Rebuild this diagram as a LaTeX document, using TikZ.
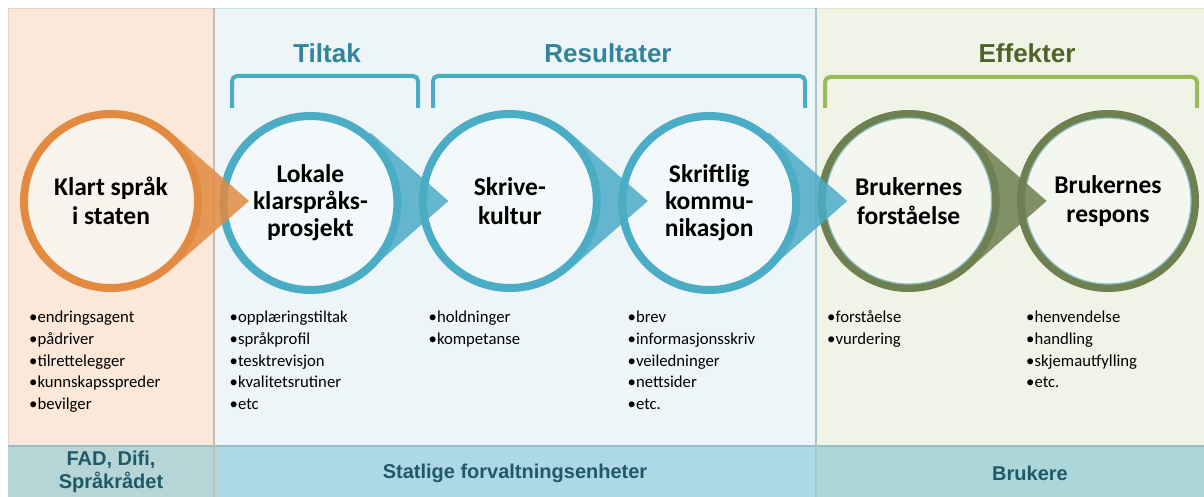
\documentclass[tikz,border=0pt]{standalone}
\usepackage{fontspec}
\setmainfont{Carlito}
\newfontfamily\arialf{Liberation Sans}
\usetikzlibrary{calc}
\definecolor{panO}{HTML}{FCE8D8}
\definecolor{panB}{HTML}{EDF5F9}
\definecolor{panG}{HTML}{F0F4E7}
\definecolor{ringO}{HTML}{E28A40}
\definecolor{ringB}{HTML}{4BACC6}
\definecolor{ringG}{HTML}{6E7F50}
\definecolor{inO}{HTML}{F9F3EE}
\definecolor{inB}{HTML}{F3F9FB}
\definecolor{inG}{HTML}{F4F7F0}
\definecolor{brB}{HTML}{4BACC6}
\definecolor{brG}{HTML}{9BBB59}
\definecolor{tiB}{HTML}{31849B}
\definecolor{tiG}{HTML}{4F6228}
\definecolor{bandO}{HTML}{B5D5D6}
\definecolor{bandB}{HTML}{ADD8E6}
\definecolor{bandG}{HTML}{ABD7DA}
\definecolor{bandT}{HTML}{215968}
\definecolor{sepO}{HTML}{C8BAAE}
\definecolor{sepG}{HTML}{A6C6C9}
\definecolor{bandLine}{HTML}{95BFC9}
\definecolor{rimG}{HTML}{8DBDC6}
\tikzset{
  ringnode/.style={circle, minimum size=174pt, inner sep=0pt, line width=8pt, align=center,
    font=\bfseries\fontsize{25.5}{28.5}\selectfont},
  ringO/.style={ringnode, draw=ringO, fill=inO},
  ringB/.style={ringnode, draw=ringB, fill=inB},
  ringG/.style={ringnode, draw=ringG, fill=inG},
  threeline/.style={font=\bfseries\fontsize{25.5}{27}\selectfont, yshift=-2pt},
  wedgeO/.style={fill=ringO, fill opacity=0.85},
  wedgeB/.style={fill=ringB, fill opacity=0.85},
  wedgeG/.style={fill=ringG, fill opacity=0.85},
  bracketB/.style={draw=brB, line width=4pt, rounded corners=5pt},
  bracketG/.style={draw=brG, line width=4pt, rounded corners=5pt},
  titleB/.style={font=\arialf\bfseries\fontsize{26}{30}\selectfont, text=tiB, inner sep=0pt},
  titleG/.style={font=\arialf\bfseries\fontsize{26}{30}\selectfont, text=tiG, inner sep=0pt},
  bandtext/.style={font=\arialf\bfseries\fontsize{20}{23}\selectfont, text=bandT, align=center, inner sep=0pt},
  item/.style={anchor=base west, inner sep=0pt, font=\fontsize{16.7}{20}\selectfont}
}
\begin{document}
\begin{tikzpicture}[x=1pt,y=-1pt]
\useasboundingbox (0,0) rectangle (1204,497);
% panels
\fill[white] (0,0) rectangle (1204,497);
\fill[panO] (8,8) rectangle (214,446);
\fill[panB] (214,8) rectangle (816,446);
\fill[panG] (816,8) rectangle (1204,446);
\draw[sepO!60, line width=1pt] (8.5,446) -- (8.5,8.5) -- (214,8.5);
\draw[ringB!35, line width=1pt] (214,8.5) -- (816,8.5);
\draw[brG!35, line width=1pt] (816,8.5) -- (1204,8.5);
% bottom band
\fill[bandO] (8,446) rectangle (214,497);
\fill[bandB] (214,446) rectangle (816,497);
\fill[bandG] (816,446) rectangle (1204,497);
\draw[bandLine, line width=2pt] (8,446) -- (1204,446);
\draw[sepO, line width=2.5pt] (214,8) -- (214,497);
\draw[sepG, line width=2pt] (816,8) -- (816,497);
\node[bandtext] (b1) at (111,472) {FAD, Difi,\\Språkrådet};
\node[bandtext] (b2) at (515,473) {Statlige forvaltningsenheter};
\node[bandtext] (b3) at (1030,473) {Brukere};
% titles and brackets
\node[titleB] (t1) at (327,53) {Tiltak};
\node[titleB] (t2) at (608,53) {Resultater};
\node[titleG] (t3) at (1027,53) {Effekter};
\draw[bracketB] (232,108) -- (232,76) -- (418,76) -- (418,108);
\draw[bracketB] (433,108) -- (433,76) -- (805,76) -- (805,108);
\draw[bracketG] (825,108) -- (825,77) -- (1197,77) -- (1197,108);
% circle centres
\coordinate (p1) at (111,201);
\coordinate (p2) at (310.4,201);
\coordinate (p3) at (509.8,201);
\coordinate (p4) at (709.2,201);
\coordinate (p5) at (908.6,201);
\coordinate (p6) at (1108,201);
% circles, drawn right to left so that each wedge lies over the next circle
\node[ringG] (n6) at (p6) {Brukernes\\respons};
\draw[rimG, line width=1.2pt] (p6) circle[radius=83pt];
\fill[wedgeG] ($(p5)+(60,-68.4)$) -- ($(p5)+(138,0)$) -- ($(p5)+(60,68.4)$) -- (p5) -- cycle;
\node[ringG] (n5) at (p5) {Brukernes\\forståelse};
\draw[rimG, line width=1.2pt] (p5) circle[radius=83pt];
\fill[wedgeB] ($(p4)+(60,-68.4)$) -- ($(p4)+(138,0)$) -- ($(p4)+(60,68.4)$) -- (p4) -- cycle;
\node[ringB, threeline] (n4) at (p4) {Skriftlig\\kommu-\\nikasjon};
\fill[wedgeB] ($(p3)+(60,-68.4)$) -- ($(p3)+(138,0)$) -- ($(p3)+(60,68.4)$) -- (p3) -- cycle;
\node[ringB] (n3) at (p3) {Skrive-\\kultur};
\fill[wedgeB] ($(p2)+(60,-68.4)$) -- ($(p2)+(138,0)$) -- ($(p2)+(60,68.4)$) -- (p2) -- cycle;
\node[ringB, threeline] (n2) at (p2) {Lokale\\klarspråks-\\prosjekt};
\fill[wedgeO] ($(p1)+(60,-68.4)$) -- ($(p1)+(138,0)$) -- ($(p1)+(60,68.4)$) -- (p1) -- cycle;
\node[ringO] (n1) at (p1) {Klart språk\\i staten};
% bullet lists
\foreach \t [count=\k] in {endringsagent,pådriver,tilrettelegger,kunnskapsspreder,bevilger}
  \node[item] (la\k) at (29,{322.7+21.7*(\k-1)}) {•\t};
\foreach \t [count=\k] in {opplæringstiltak,språkprofil,tesktrevisjon,kvalitetsrutiner,etc}
  \node[item] (lb\k) at (229.5,{322.7+21.7*(\k-1)}) {•\t};
\foreach \t [count=\k] in {holdninger,kompetanse}
  \node[item] (lc\k) at (428.5,{322.7+21.7*(\k-1)}) {•\t};
\foreach \t [count=\k] in {brev,informasjonsskriv,veiledninger,nettsider,etc.}
  \node[item] (ld\k) at (627.5,{322.7+21.7*(\k-1)}) {•\t};
\foreach \t [count=\k] in {forståelse,vurdering}
  \node[item] (le\k) at (827,{322.7+21.7*(\k-1)}) {•\t};
\foreach \t [count=\k] in {henvendelse,handling,skjemautfylling,etc.}
  \node[item] (lf\k) at (1026,{322.7+21.7*(\k-1)}) {•\t};
\end{tikzpicture}
\end{document}
